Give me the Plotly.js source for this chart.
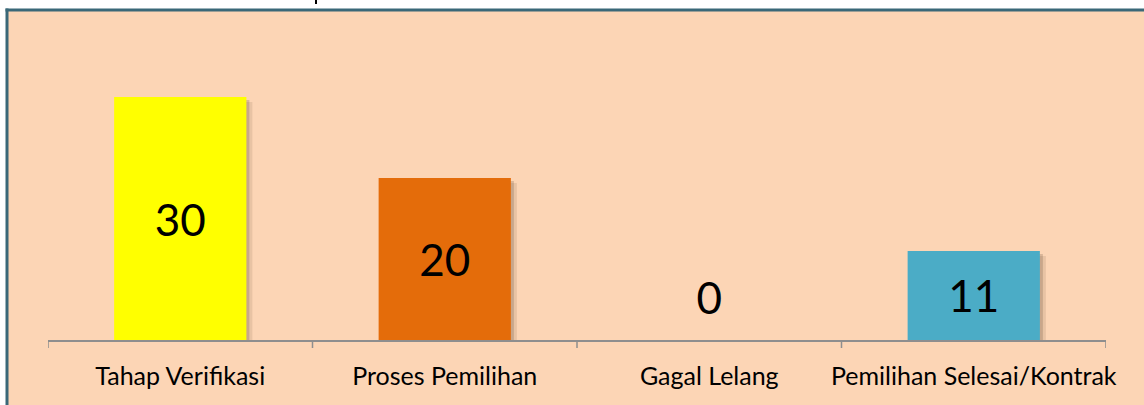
<!DOCTYPE html>
<html>
<head>
<meta charset="utf-8">
<script src="https://cdn.plot.ly/plotly-3.0.1.min.js"></script>
<style>html,body{margin:0;padding:0;background:#fff;}#chart{width:1144px;height:405px;}</style>
</head>
<body>
<div id="chart"></div>
<script>
const categories = ["Tahap Verifikasi", "Proses Pemilihan", "Gagal Lelang", "Pemilihan Selesai/Kontrak"];
const values = [30, 20, 0, 11];
const barColors = ["#FFFF00", "#E46C0A", "#4BACC6", "#4BACC6"];
const valueLabels = values.map(String);

const W = 1144, H = 405;
const mL = 48, mR = 38, mT = 10, mB = 65;
const plotW = W - mL - mR, plotH = H - mT - mB;
const pxPerCat = plotW / categories.length;
const yMax = 40.74;
const pxPerUnit = plotH / yMax;
const barWidth = 0.5;
const xIdx = categories.map((c, i) => i);
const labelDropPx = 6;
const minLabelVal = 5.3;

function shadowTrace(dxPx, dyPx, alpha) {
  return {
    type: "bar", x: xIdx, y: values,
    base: values.map(() => -dyPx / pxPerUnit),
    width: barWidth, offset: -barWidth / 2 + dxPx / pxPerCat,
    marker: {color: "rgba(60,40,20," + alpha + ")", line: {width: 0}},
    hoverinfo: "skip", showlegend: false
  };
}

const traces = [
  shadowTrace(6, 5, 0.10),
  shadowTrace(3, 3, 0.18),
  {
    type: "bar", x: xIdx, y: values, width: barWidth,
    marker: {color: barColors, line: {width: 0}},
    showlegend: false, hoverinfo: "skip"
  },
  {
    type: "scatter", mode: "text", x: xIdx,
    y: values.map(v => Math.max(v / 2, minLabelVal) - labelDropPx / pxPerUnit),
    text: valueLabels, textposition: "middle center",
    textfont: {family: "Lato, 'Open Sans', sans-serif", size: 44, color: "#000"},
    showlegend: false, hoverinfo: "skip", cliponaxis: false
  }
];

function px2paperX(p) { return (p - mL) / plotW; }
function px2paperY(p) { return (H - mB - p) / plotH; }

const layout = {
  width: W, height: H,
  margin: {l: mL, r: mR, t: mT, b: mB},
  paper_bgcolor: "#ffffff",
  plot_bgcolor: "rgba(0,0,0,0)",
  barmode: "overlay",
  showlegend: false,
  font: {family: "Lato, 'Open Sans', sans-serif", color: "#000"},
  xaxis: {
    type: "linear", range: [-0.5, categories.length - 0.5],
    tickmode: "array", tickvals: xIdx, ticktext: categories,
    tickfont: {size: 25, color: "#000"},
    showline: true, linecolor: "#8E8E8E", linewidth: 1.5,
    ticks: "", showgrid: false, zeroline: false,
    ticklabelstandoff: 13, fixedrange: true
  },
  yaxis: {
    range: [0, yMax], visible: false, showgrid: false, zeroline: false, fixedrange: true
  },
  shapes: [
    {type: "rect", xref: "paper", yref: "paper", layer: "below",
     x0: px2paperX(6), x1: px2paperX(W + 2), y0: px2paperY(H + 2), y1: px2paperY(9),
     fillcolor: "#FCD5B5", line: {width: 0}},
    {type: "line", xref: "paper", yref: "paper", layer: "above",
     x0: px2paperX(5.5), x1: px2paperX(W + 2), y0: px2paperY(10), y1: px2paperY(10),
     line: {color: "#3A6878", width: 3}},
    {type: "line", xref: "paper", yref: "paper", layer: "above",
     x0: px2paperX(7), x1: px2paperX(7), y0: px2paperY(8.5), y1: px2paperY(H + 2),
     line: {color: "#3A6878", width: 3}},
    {type: "line", xref: "paper", yref: "paper", layer: "above",
     x0: px2paperX(316), x1: px2paperX(316), y0: px2paperY(0), y1: px2paperY(4),
     line: {color: "#000", width: 2}}
  ].concat(
    Array.from({length: categories.length + 1}, (_, i) => ({
      type: "line", xref: "x", yref: "paper", layer: "above",
      x0: i - 0.5, x1: i - 0.5, y0: 0, y1: -8 / plotH,
      line: {color: "#8E8E8E", width: 1.5}
    }))
  )
};

Plotly.newPlot("chart", traces, layout, {staticPlot: true, displayModeBar: false});
</script>
</body>
</html>
